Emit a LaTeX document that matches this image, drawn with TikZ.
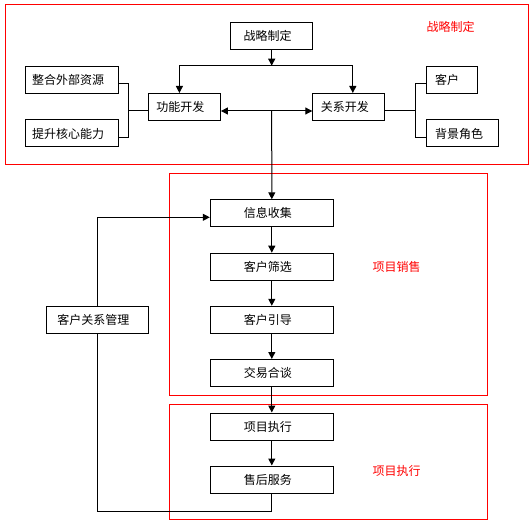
\documentclass[tikz,border=0pt]{standalone}
\usepackage{fontspec}
\setmainfont{Noto Sans CJK SC}
\usetikzlibrary{arrows.meta}
\tikzset{
  box/.style={draw, line width=1pt, minimum height=27pt, inner sep=0pt, font=\fontsize{12}{14}\selectfont, execute at end node={\hspace{8pt}}},
  lbox/.style={draw, line width=1pt, minimum height=27pt, inner ysep=0pt, inner xsep=9pt, align=left, font=\fontsize{12}{14}\selectfont},
  region/.style={draw=red, line width=0.9pt},
  tag/.style={text=red, font=\fontsize{12}{14}\selectfont},
  link/.style={line width=1pt},
  arr/.style={link, -{Triangle[length=7pt,width=7pt]}},
  darr/.style={link, {Triangle[length=7pt,width=7pt]}-{Triangle[length=7pt,width=7pt]}}
}
\begin{document}
\begin{tikzpicture}[x=1pt, y=-1pt]
    \useasboundingbox (0,0) rectangle (532,526);
    \draw[region] (5.4,4.4) rectangle (528.9,164.3);
    \draw[region] (169,173.3) rectangle (487.3,395.3);
    \draw[region] (169,404.3) rectangle (487.3,519.3);
    \node[tag] (t1) at (450.7,26.7)  {战略制定};
    \node[tag] (t2) at (396.7,266.7) {项目销售};
    \node[tag] (t3) at (396.7,470.7) {项目执行};
    \node[box, minimum width=82, execute at end node={}] (zl) at (271.7,35.8) {战略制定};
    \node[box, minimum width=72] (gn) at (184.4,107)  {功能开发};
    \node[box, minimum width=72] (gx) at (348.8,107)  {关系开发};
    \node[box, minimum width=93] (zh) at (72,79.6)    {整合外部资源};
    \node[box, minimum width=93] (ts) at (72,133.5)   {提升核心能力};
    \node[lbox, text width=33] (kh) at (451.5,79.6)   {客户};
    \node[lbox, text width=54] (bj) at (462,133.5)    {背景角色};
    \node[box, minimum width=123] (xx) at (271.8,213.3) {信息收集};
    \node[box, minimum width=123] (sx) at (271.8,266.7) {客户筛选};
    \node[box, minimum width=123] (yd) at (271.8,319.8) {客户引导};
    \node[box, minimum width=123] (jy) at (271.8,373)   {交易合谈};
    \node[box, minimum width=123] (zx) at (271.8,426.5) {项目执行};
    \node[box, minimum width=123] (sh) at (271.8,479.5) {售后服务};
    \node[box, minimum width=102] (gl) at (97.3,319.8)  {客户关系管理};
    \coordinate (fork) at (271.7,65.7);
    \coordinate (jn) at (271.7,111);
    \coordinate (lb) at (128.4,111);
    \coordinate (rb) at (415.8,111);
    \draw[arr] (zl.south) -- (fork);
    \draw[arr] (fork) -| ([xshift=-5pt]gn.north);
    \draw[arr] (fork) -| ([xshift=4pt]gx.north);
    \draw[link] ([yshift=-4pt]zh.east) -| (lb) |- ([yshift=-4pt]ts.east);
    \draw[link] (lb) -- ([yshift=-4pt]gn.west);
    \draw[link] ([yshift=-4pt]kh.west) -| (rb) |- ([yshift=-4pt]bj.west);
    \draw[link] (rb) -- ([yshift=-4pt]gx.east);
    \draw[darr] ([yshift=-4pt]gn.east) -- ([yshift=-4pt]gx.west);
    \draw[arr] (jn) -- (xx.north);
    \foreach \a/\b in {xx/sx, sx/yd, yd/jy, jy/zx, zx/sh}
        \draw[arr] (\a.south) -- (\b.north);
    \draw[link] (sh.south) -- ++(0,18) -| (gl.south);
    \draw[arr] (gl.north) |- ([yshift=-4pt]xx.west);
\end{tikzpicture}
\end{document}
